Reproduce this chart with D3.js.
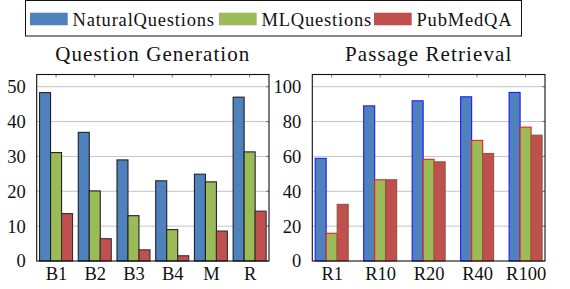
<!DOCTYPE html>
<html>
<head>
<meta charset="utf-8">
<script src="https://cdn.jsdelivr.net/npm/d3@7"></script>
</head>
<body style="margin:0;background:#fff">
<div id="chart"></div>
<script>
// Dados
const seriesNames = ['NaturalQuestions', 'MLQuestions', 'PubMedQA'];
const seriesColors = ['#4f81bd', '#9bbb59', '#c0504d'];

const qgCategories = ['B1', 'B2', 'B3', 'B4', 'M', 'R'];
const qgNatural = [48.3, 36.9, 29.0, 23.0, 24.9, 47.0];
const qgML = [31.1, 20.1, 13.0, 9.0, 22.7, 31.3];
const qgPubMed = [13.6, 6.4, 3.2, 1.5, 8.6, 14.3];
const qgTicks = [0, 10, 20, 30, 40, 50];

const prCategories = ['R1', 'R10', 'R20', 'R40', 'R100'];
const prNatural = [58.9, 89.0, 91.9, 94.2, 96.7];
const prML = [15.9, 46.6, 58.3, 69.2, 76.8];
const prPubMed = [32.5, 46.6, 56.9, 61.7, 72.2];
const prTicks = [0, 20, 40, 60, 80, 100];

const width = 570, height = 289;
const barW = 11;
const FONT = "'Liberation Serif', 'DejaVu Serif', serif";

const svg = d3.select('#chart').append('svg')
  .attr('width', width).attr('height', height)
  .style('display', 'block');

// Legenda
const leg = svg.append('g');
leg.append('rect').attr('x', 25.5).attr('y', 0.5).attr('width', 496).attr('height', 35.5)
  .attr('fill', 'none').attr('stroke', '#111').attr('stroke-width', 1);
const legX = [30, 219, 374];
seriesNames.forEach((name, i) => {
  leg.append('rect').attr('x', legX[i]).attr('y', 12.7).attr('width', 37.7).attr('height', 12.6)
    .attr('fill', seriesColors[i]);
  leg.append('text').attr('x', legX[i] + 42.5).attr('y', 25.5)
    .attr('font-family', FONT).attr('font-size', 18.5).attr('letter-spacing', 0.8)
    .attr('fill', '#111').text(name);
});

function drawPanel({ categories, series, ticks, yMax, left, right, padding, title, strokes }) {
  const top = 74.5, bottom = 261;
  const x = d3.scalePoint().domain(categories).range([left, right]).padding(padding);
  const y = d3.scaleLinear().domain([0, yMax]).range([bottom, top]);
  const g = svg.append('g');

  g.append('text')
    .attr('x', (left + right) / 2).attr('y', 60.5)
    .attr('font-family', FONT).attr('font-size', 21).attr('letter-spacing', 1.1)
    .attr('fill', '#111')
    .attr('text-anchor', 'middle').text(title);

  // grade
  g.append('g').selectAll('line').data(ticks.filter(t => t > 0)).enter().append('line')
    .attr('x1', left).attr('x2', right)
    .attr('y1', d => y(d)).attr('y2', d => y(d))
    .attr('stroke', '#c4c4c4').attr('stroke-width', 1);

  // marcas pequenas no topo e à direita
  g.append('g').selectAll('line').data(categories).enter().append('line')
    .attr('x1', d => x(d)).attr('x2', d => x(d))
    .attr('y1', top).attr('y2', top + 3)
    .attr('stroke', '#777');
  g.append('g').selectAll('line').data(ticks).enter().append('line')
    .attr('x1', right - 3).attr('x2', right)
    .attr('y1', d => y(d)).attr('y2', d => y(d))
    .attr('stroke', '#777');

  // barras
  series.forEach((vals, i) => {
    g.append('g').selectAll('rect').data(vals).enter().append('rect')
      .attr('x', (d, j) => x(categories[j]) + (i - 1.5) * barW)
      .attr('y', d => y(d))
      .attr('width', barW)
      .attr('height', d => bottom - y(d))
      .attr('fill', seriesColors[i])
      .attr('stroke', strokes[i])
      .attr('stroke-width', 1.1);
  });

  // moldura
  g.append('rect').attr('x', left).attr('y', top)
    .attr('width', right - left).attr('height', bottom - top)
    .attr('fill', 'none').attr('stroke', '#111').attr('stroke-width', 1.1);

  const ya = g.append('g').attr('transform', `translate(${left},0)`)
    .call(d3.axisLeft(y).tickValues(ticks).tickSize(0).tickPadding(11));
  ya.select('.domain').remove();
  ya.attr('font-family', FONT).attr('font-size', 18.5);
  ya.selectAll('text').attr('fill', '#111');

  const xa = g.append('g').attr('transform', `translate(0,${bottom})`)
    .call(d3.axisBottom(x).tickSize(0).tickPadding(6));
  xa.select('.domain').remove();
  xa.attr('font-family', FONT).attr('font-size', 18.5);
  xa.selectAll('text').attr('fill', '#111');
}

drawPanel({
  categories: qgCategories,
  series: [qgNatural, qgML, qgPubMed],
  ticks: qgTicks,
  yMax: 53.5,
  left: 36.7, right: 269, padding: 0.5,
  title: 'Question Generation',
  strokes: ['#222', '#222', '#333']
});

drawPanel({
  categories: prCategories,
  series: [prNatural, prML, prPubMed],
  ticks: prTicks,
  yMax: 107,
  left: 312.3, right: 545, padding: 0.4,
  title: 'Passage Retrieval',
  strokes: ['#1a1aff', '#ff1a1a', '#8a5a40']
});
</script>
</body>
</html>
